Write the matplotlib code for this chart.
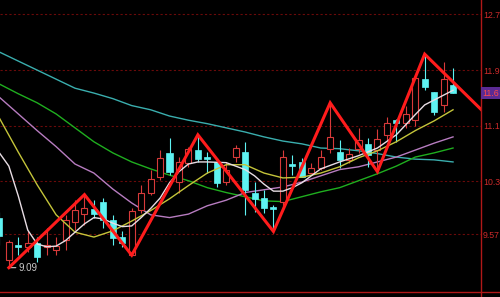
import matplotlib
matplotlib.use("Agg")
import matplotlib.pyplot as plt
from matplotlib.lines import Line2D

plt.rcParams['font.family'] = ['Liberation Sans', 'DejaVu Sans']

# K线数据 (按柱序号)
opens = [9.81, 9.20, 9.42, 9.39, 9.45, 9.39, 9.35, 9.49, 9.75, 9.86,
         9.94, 10.04, 9.78, 9.53, 9.27, 9.92, 10.17, 10.40, 10.74, 10.32,
         10.60, 10.78, 10.68, 10.61, 10.32, 10.68, 10.75, 10.17, 10.09, 9.96,
         10.04, 10.58, 10.61, 10.45, 10.52, 10.80, 10.75, 10.64, 10.80, 10.87,
         10.78, 11.00, 11.21, 11.17, 11.21, 11.80, 11.62, 11.43, 11.72]
highs = [9.89, 9.49, 9.53, 9.61, 9.53, 9.66, 9.53, 9.85, 10.06, 10.14,
         10.06, 10.09, 9.85, 9.61, 9.95, 10.28, 10.50, 10.78, 10.96, 10.68,
         10.83, 11.00, 10.75, 10.67, 10.61, 10.86, 10.90, 10.32, 10.21, 9.99,
         10.78, 10.71, 10.67, 10.60, 10.78, 11.46, 10.93, 10.81, 11.10, 10.96,
         11.09, 11.26, 11.23, 11.42, 11.82, 12.16, 11.62, 12.05, 11.96]
lows = [9.42, 9.09, 9.27, 9.32, 9.17, 9.27, 9.27, 9.35, 9.63, 9.71,
        9.81, 9.66, 9.42, 9.39, 9.27, 9.88, 10.14, 10.35, 10.42, 10.17,
        10.54, 10.61, 10.45, 10.25, 10.28, 10.61, 9.85, 9.89, 9.88, 9.61,
        9.96, 10.42, 10.40, 10.45, 10.50, 10.74, 10.52, 10.60, 10.74, 10.54,
        10.47, 10.93, 10.90, 11.10, 11.12, 11.65, 11.29, 11.33, 11.60]
closes = [9.55, 9.46, 9.39, 9.45, 9.25, 9.42, 9.40, 9.78, 9.92, 9.95,
          9.86, 9.78, 9.52, 9.45, 9.91, 10.17, 10.37, 10.67, 10.47, 10.61,
          10.80, 10.65, 10.65, 10.31, 10.50, 10.81, 10.21, 10.08, 9.95, 9.94,
          10.68, 10.55, 10.40, 10.52, 10.68, 10.97, 10.64, 10.73, 10.93, 10.71,
          10.94, 11.17, 11.17, 11.30, 11.82, 11.69, 11.33, 11.80, 11.60]

# 均线 (读图取样)
ma5_x = [0, 1, 2, 3, 4, 5, 6, 7, 8, 9, 10, 11, 12, 13, 14, 15, 16, 17, 18, 19,
         20, 21, 22, 24, 26, 27, 28, 29, 30, 31, 32, 34, 36, 38, 40, 42, 44, 45, 46, 48]
ma5 = [10.74, 10.55, 10.12, 9.63, 9.43, 9.39, 9.40, 9.48, 9.60, 9.72,
       9.81, 9.79, 9.73, 9.68, 9.69, 9.81, 9.94, 10.09, 10.31, 10.47,
       10.58, 10.61, 10.61, 10.60, 10.50, 10.41, 10.29, 10.19, 10.19, 10.24,
       10.31, 10.51, 10.61, 10.70, 10.81, 11.00, 11.29, 11.43, 11.50, 11.64]
ma_x = list(range(0, 49, 2))
ma10 = [11.24, 10.75, 10.28, 9.85, 9.60, 9.53, 9.62, 9.76, 9.91, 10.08,
        10.27, 10.45, 10.57, 10.57, 10.45, 10.38, 10.39, 10.45, 10.54, 10.67,
        10.77, 10.90, 11.06, 11.20, 11.36]
ma20 = [11.54, 11.30, 11.06, 10.83, 10.58, 10.45, 10.22, 10.02, 9.85, 9.81,
        9.86, 9.98, 10.06, 10.17, 10.21, 10.25, 10.32, 10.41, 10.50, 10.54,
        10.61, 10.68, 10.78, 10.88, 10.97]
ma30 = [11.73, 11.59, 11.46, 11.30, 11.10, 10.90, 10.74, 10.61, 10.51, 10.42,
        10.34, 10.24, 10.17, 10.11, 10.05, 10.04, 10.11, 10.18, 10.24, 10.34,
        10.44, 10.55, 10.68, 10.74, 10.81]
ma60 = [12.19, 12.06, 11.93, 11.80, 11.67, 11.60, 11.52, 11.42, 11.36, 11.27,
        11.21, 11.16, 11.10, 11.04, 10.97, 10.91, 10.87, 10.81, 10.80, 10.77,
        10.73, 10.68, 10.65, 10.64, 10.61]

# 波浪折线
zig_x = [1, 9, 14, 21, 29, 35, 40, 45, 51]
zig_y = [9.09, 10.14, 9.27, 11.00, 9.61, 11.46, 10.47, 12.16, 11.36]

price_ticks = [12.73, 11.93, 11.13, 10.33, 9.57]
price_labels = ['12.7', '11.9', '11.1', '10.3', '9.57']
last_price = 11.60
last_label = '11.6'
low_label = '9.09'

UP = '#d83a3a'
DOWN = '#5ef2f2'
AXIS_RED = '#b01818'

fig = plt.figure(figsize=(5, 2.97), dpi=100, facecolor='black')
ax = fig.add_axes([0, 0.0168, 0.962, 0.9832], facecolor='black')

# 均线
ax.plot(ma_x, ma60, color='#3aaeae', lw=1.0)
ax.plot(ma_x, ma30, color='#1fae1f', lw=1.0)
ax.plot(ma_x, ma20, color='#b77cc0', lw=1.0)

# K线
w = 0.64
for i in range(len(opens)):
    o, h, l, c = opens[i], highs[i], lows[i], closes[i]
    top, bot = max(o, c), min(o, c)
    if c >= o:
        ax.vlines(i, top, h, color=UP, lw=0.8)
        ax.vlines(i, l, bot, color=UP, lw=0.8)
        ax.bar(i, max(top - bot, 0.005), width=w, bottom=bot,
               facecolor='black', edgecolor=UP, linewidth=0.8, zorder=3)
    else:
        ax.vlines(i, l, h, color=DOWN, lw=0.8, zorder=3)
        ax.bar(i, max(top - bot, 0.012), width=w, bottom=bot,
               facecolor=DOWN, edgecolor=DOWN, linewidth=0.5, zorder=3)

# 短期均线画在K线上
ax.plot(ma_x, ma10, color='#c4c43a', lw=1.0, zorder=4)
ax.plot(ma5_x, ma5, color='#e8dde4', lw=1.0, zorder=4)

# 波浪线
ax.plot(zig_x, zig_y, color='#ff1c1c', lw=2.2, zorder=6, solid_joinstyle='miter')

# 最低价标注
ax.annotate(low_label, xy=(1, 9.09), xytext=(7, 0), textcoords='offset points',
            color='#c8c8c8', fontsize=7, va='center', ha='left',
            arrowprops=dict(arrowstyle='-', color='#c8c8c8', lw=0.8,
                            shrinkA=0, shrinkB=0))

ax.set_xlim(0.063, 50.96)
ax.set_ylim(8.74, 12.938)

ax.yaxis.tick_right()
ax.set_yticks(price_ticks)
ax.set_yticklabels(price_labels)
ax.tick_params(axis='y', length=0, pad=1.5, labelsize=6.3, labelcolor='#cc2a2a')
ax.set_xticks([])
ax.grid(axis='y', color='#6a0a0a', ls=(0, (2, 2)), lw=0.8)

for s in ['left', 'top', 'bottom', 'right']:
    ax.spines[s].set_visible(False)

# 边框线
fig.add_artist(Line2D([0.962, 0.962], [0, 1], color=AXIS_RED, lw=1.0))
fig.add_artist(Line2D([0, 1], [0.0168, 0.0168], color=AXIS_RED, lw=1.0))

# 当前价格标签
ypos = ax.transData.transform((0, last_price))[1] / fig.bbox.height
fig.text(0.965, ypos, last_label, color='#ff4a4a', fontsize=6.3,
         va='center', ha='left',
         bbox=dict(facecolor='#5b2a94', edgecolor='none', pad=1.2))

fig.savefig('out.png', dpi=100, facecolor='black')
